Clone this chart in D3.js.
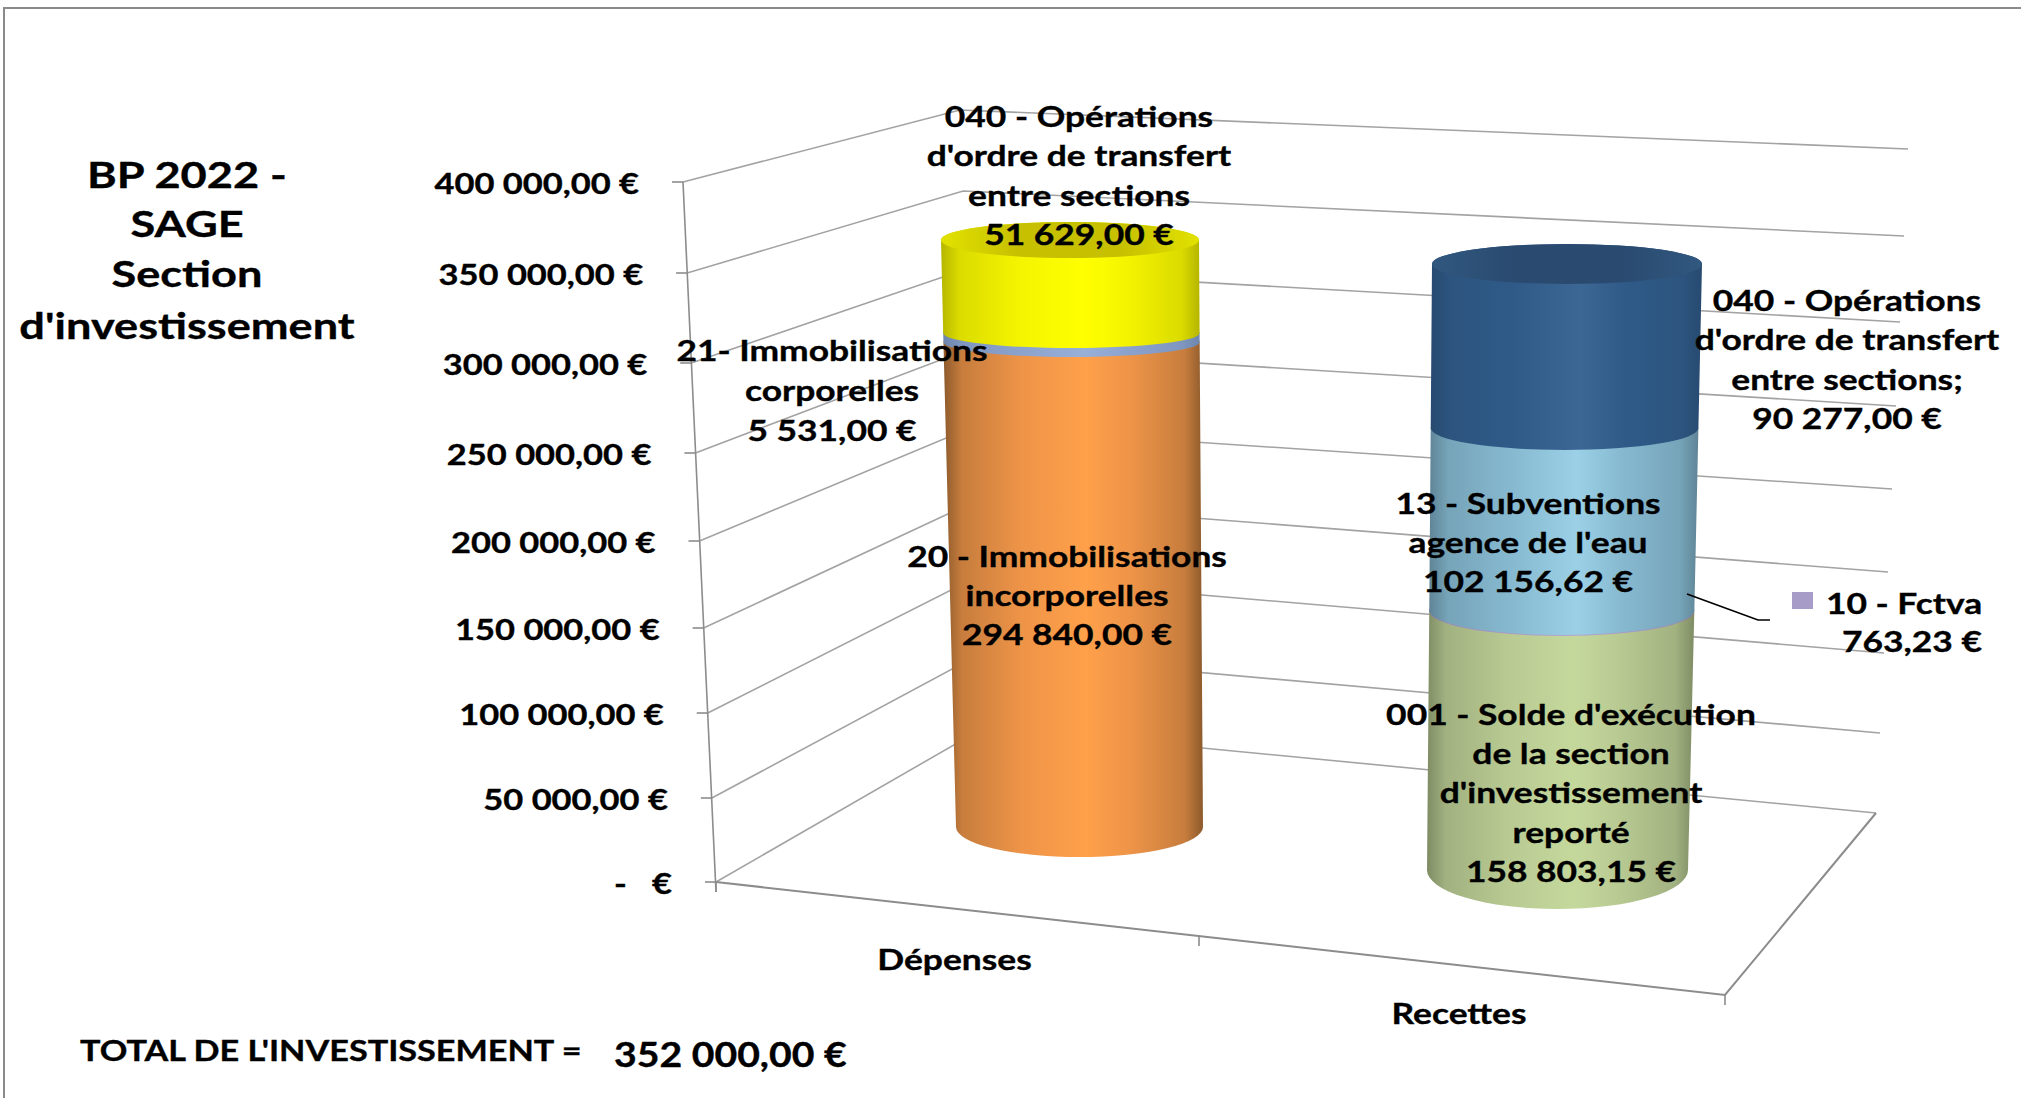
<!DOCTYPE html>
<html><head><meta charset="utf-8">
<script src="https://cdnjs.cloudflare.com/ajax/libs/d3/7.8.5/d3.min.js"></script>
<style>html,body{margin:0;padding:0;background:#fff}svg{display:block}text{font-family:Lato,"Open Sans",sans-serif;font-weight:700;fill:#000;stroke:#000;stroke-width:.35;white-space:pre}</style>
</head><body><div id="c"></div>
<script>
// ---- data ----
const categories = ["Dépenses", "Recettes"];
const tickValues = [0, 50000, 100000, 150000, 200000, 250000, 300000, 350000, 400000];
const tickLabels = ["-   €", "50 000,00 €", "100 000,00 €", "150 000,00 €", "200 000,00 €", "250 000,00 €", "300 000,00 €", "350 000,00 €", "400 000,00 €"];
const depensesValues = [294840.00, 5531.00, 51629.00];
const depensesLabels = [
  ["20 - Immobilisations", "incorporelles", "294 840,00 €"],
  ["21- Immobilisations", "corporelles", "5 531,00 €"],
  ["040 - Opérations", "d'ordre de transfert", "entre sections", "51 629,00 €"]];
const recettesValues = [158803.15, 763.23, 102156.62, 90277.00];
const recettesLabels = [
  ["001 - Solde d'exécution", "de la section", "d'investissement", "reporté", "158 803,15 €"],
  ["10 - Fctva", "763,23 €"],
  ["13 - Subventions", "agence de l'eau", "102 156,62 €"],
  ["040 - Opérations", "d'ordre de transfert", "entre sections;", "90 277,00 €"]];
const titleLines = ["BP 2022 -", "SAGE", "Section", "d'investissement"];
const totalLabel = "TOTAL DE L'INVESTISSEMENT =";
const totalValue = "352 000,00 €";

// ---- styles: [edge, shoulder, centre] ----
const depensesColors = [["#8c5a2c", "#ee9448", "#ffa04a"], ["#6d86ad", "#8ba3cc", "#98afd8"], ["#b5b500", "#f4f400", "#ffff00"]];
const recettesColors = [["#7f8c64", "#b8ca92", "#c5d89c"], ["#8577a5", "#a79cc7", "#b2a7d2"], ["#5f8496", "#86b9d0", "#9bd0e6"], ["#274a70", "#2f5a88", "#3c6794"]];
const capColors = [["#e2e200", "#c6c000"], ["#31587f", "#2a4a70"]];

const W = 2021, H = 1098;
const svg = d3.select("#c").append("svg").attr("width", W).attr("height", H);
const defs = svg.append("defs");

// ---- perspective scales of the 3D box ----
const yFront = d3.scaleLinear().domain(tickValues).range([882, 798, 713, 628, 541, 453, 363, 273, 182]);
const xFront = d3.scaleLinear().domain([0, 400000]).range([716, 683]);
const yCorner = d3.scaleLinear().domain(tickValues).range([727, 653, 576, 501, 427, 349, 269, 191, 110]);
const xCorner = d3.scaleLinear().domain([0, 400000]).range([985, 960]);
const yRight = d3.scaleLinear().domain(tickValues).range([813, 733, 653, 572, 489, 406, 322, 236, 149]);
const xRight = d3.scaleLinear().domain([0, 400000]).range([1876, 1908]);
const catIndex = d3.range(categories.length + 1);
const xEdge = d3.scaleLinear().domain(catIndex).range([716, 1199, 1725]);
const yEdge = d3.scaleLinear().domain(catIndex).range([882, 936, 995]);

const GRID = "#a3a3a3", AXIS = "#8c8c8c";
// frame
svg.append("path").attr("d", `M4,${H}V8H${W}`).attr("fill", "none").attr("stroke", "#8a8a8a").attr("stroke-width", 2);

// wall gridlines
const grid = svg.append("g").attr("fill", "none").attr("stroke", GRID).attr("stroke-width", 1.6);
grid.selectAll("path").data(tickValues).join("path")
  .attr("d", v => `M${xFront(v)},${yFront(v)}L${xCorner(v)},${yCorner(v)}L${xRight(v)},${yRight(v)}`);
// axes
const ax = svg.append("g").attr("fill", "none").attr("stroke", AXIS).attr("stroke-width", 1.6);
ax.append("line").attr("x1", xFront(400000)).attr("y1", yFront(400000)).attr("x2", xFront(0)).attr("y2", yFront(0) + 10);
ax.selectAll(".t").data(tickValues).join("line").attr("class", "t")
  .attr("x1", v => xFront(v) - 11).attr("x2", v => xFront(v)).attr("y1", v => yFront(v)).attr("y2", v => yFront(v));
ax.append("path").attr("stroke-width", 2)
  .attr("d", `M${xEdge(0)},${yEdge(0)}L${xEdge(2)},${yEdge(2)}L${xRight(0)},${yRight(0)}`);
ax.selectAll(".c").data(catIndex).join("line").attr("class", "c")
  .attr("x1", i => xEdge(i)).attr("x2", i => xEdge(i)).attr("y1", i => yEdge(i)).attr("y2", i => yEdge(i) + 10);

// ---- cylinders ----
function gradient(id, c) {
  const g = defs.append("linearGradient").attr("id", id);
  const m = d3.interpolateRgb(c[0], c[1])(.6);
  [[0, c[0]], [.07, m], [.3, c[1]], [.55, c[2]], [.72, c[1]], [.93, m], [1, c[0]]].forEach(s =>
    g.append("stop").attr("offset", s[0]).attr("stop-color", s[1]));
}
function cylinder(key, values, colors, capCol, cyRange, ryRange, cxRange, rxRange) {
  const cum = [0, ...d3.cumsum(values)], total = cum[cum.length - 1];
  const cy = d3.scaleLinear().domain(cum).range(cyRange);
  const ry = d3.scaleLinear().domain(cum).range(ryRange);
  const cx = d3.scaleLinear().domain([0, total]).range(cxRange);
  const rx = d3.scaleLinear().domain([0, total]).range(rxRange);
  const g = svg.append("g");
  values.forEach((v, i) => {
    const a = cum[i], b = cum[i + 1], id = `${key}${i}`;
    gradient(id, colors[i]);
    g.append("path").attr("fill", `url(#${id})`).attr("d",
      `M${cx(a) - rx(a)},${cy(a)}A${rx(a)},${ry(a)} 0 0 0 ${cx(a) + rx(a)},${cy(a)}` +
      `L${cx(b) + rx(b)},${cy(b)}A${rx(b)},${ry(b)} 0 0 0 ${cx(b) - rx(b)},${cy(b)}Z`);
  });
  const capId = key + "cap", cg = defs.append("linearGradient").attr("id", capId);
  [[0, capCol[0]], [.3, capCol[1]], [.7, capCol[1]], [1, capCol[0]]].forEach(s => cg.append("stop").attr("offset", s[0]).attr("stop-color", s[1]));
  g.append("ellipse").attr("cx", cx(total)).attr("cy", cy(total)).attr("rx", rx(total)).attr("ry", ry(total)).attr("fill", `url(#${capId})`);
}
cylinder("d", depensesValues, depensesColors, capColors[0], [827, 342, 333, 240], [30, 15, 15, 18], [1079.5, 1070], [123.5, 129]);
cylinder("r", recettesValues, recettesColors, capColors[1], [870, 611, 610, 428, 264], [39, 25, 25, 22, 20], [1557.5, 1567], [130.5, 135]);

// Fctva legend key and leader
svg.append("path").attr("fill", "none").attr("stroke", "#000").attr("stroke-width", 1.6).attr("d", "M1687,594L1758,620H1770");
svg.append("rect").attr("x", 1792).attr("y", 592).attr("width", 21).attr("height", 17).attr("fill", "#a79cc7");

// ---- text ----
const SX = 1.22, DY = 0;
function put(s, cx, cy, size, anchor, sx) {
  return svg.append("text").attr("text-anchor", anchor || "middle").attr("dominant-baseline", "central")
    .attr("font-size", size).attr("transform", `translate(${cx},${cy + DY}) scale(${sx || SX},1)`).text(s);
}
function block(lines, cx, ys, size) { lines.forEach((l, i) => put(l, cx, ys[i], size)); }

tickValues.forEach((v, i) => put(tickLabels[i], xFront(v) - 44, yFront(v) + 1, 28, "end", 1.23));
categories.forEach((c, i) => put(c, xEdge(i + .5) - 3, yEdge(i + .5) + (i ? 47 : 50), 29));

block(titleLines, 187, [174, 223, 273, 325], 37);
block(depensesLabels[0], 1067, [556, 595, 634], 29);
block(depensesLabels[1], 832, [350, 390, 430], 29);
block(depensesLabels[2], 1079, [116, 155, 195, 234], 29);
block(recettesLabels[0], 1571, [714, 753, 792, 832, 871], 29);
block(recettesLabels[2], 1528, [503, 542, 581], 29);
block(recettesLabels[3], 1847, [300, 339, 379, 418], 29);
put(recettesLabels[1][0], 1904, 603, 29);
put(recettesLabels[1][1], 1912, 641, 29);
put(totalLabel, 80, 1050, 29, "start", 1.18);
put(totalValue, 614, 1053, 35, "start", 1.12);
</script></body></html>
